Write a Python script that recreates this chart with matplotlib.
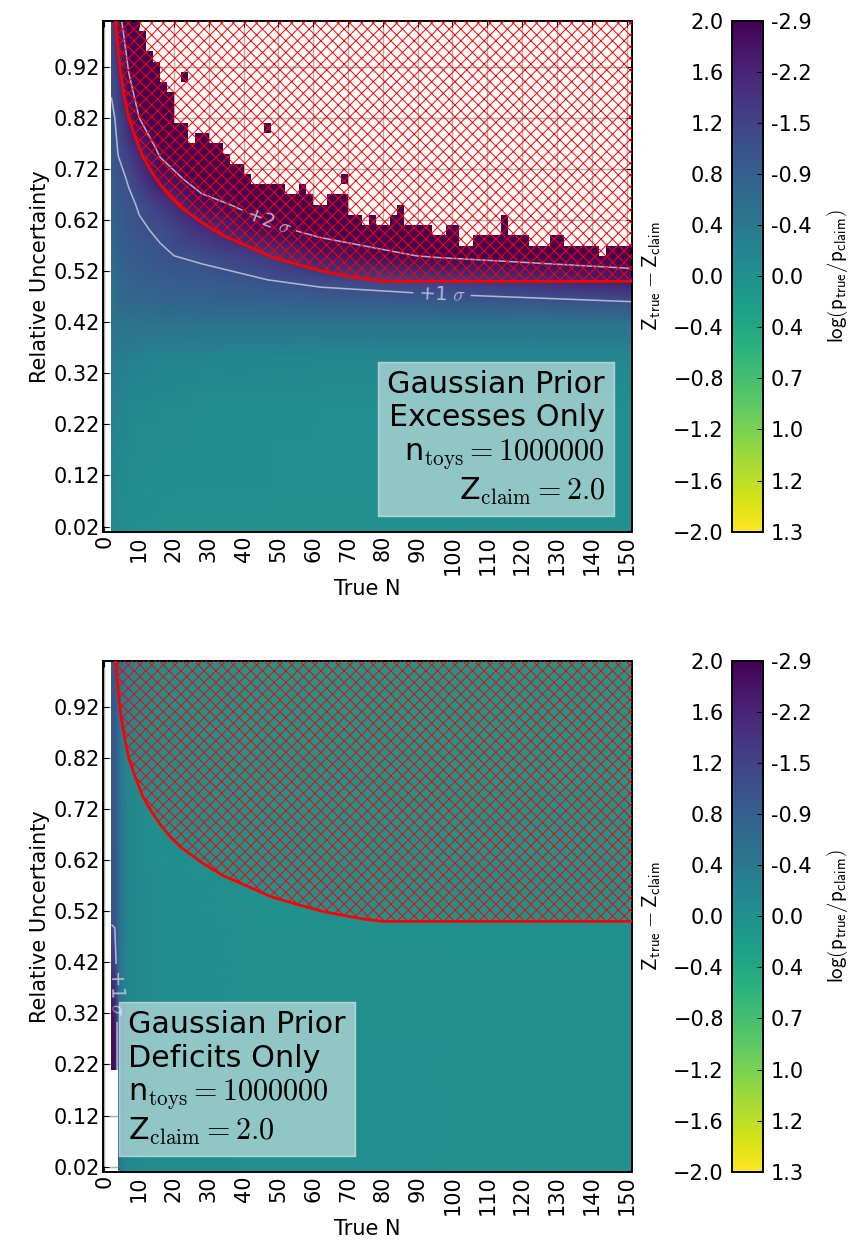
import numpy as np
import matplotlib
matplotlib.use('Agg')
import matplotlib.pyplot as plt
from matplotlib.path import Path
from matplotlib.colors import Normalize
from matplotlib.cm import ScalarMappable

plt.rcParams['mathtext.fontset'] = 'cm'
plt.rcParams['hatch.color'] = 'red'
plt.rcParams['hatch.linewidth'] = 1.0

# ---- upper panel (excesses): Z_true - Z_claim ----
up_n = [2, 3, 4, 7, 10, 16, 28, 47, 62, 95, 152]
up_unc = [0.01, 0.25, 0.35, 0.42, 0.46, 0.50, 0.55, 0.60, 0.65, 0.70, 0.76, 0.82, 0.90, 1.01]
# one row per N value, entries follow up_unc
up_z = [
    [0.10, 0.22, 0.30, 0.45, 0.50, 0.55, 0.62, 0.68, 0.74, 0.80, 0.88, 0.95, 1.05, 1.20],
    [0.10, 0.22, 0.35, 0.50, 0.56, 0.62, 0.70, 0.77, 0.83, 0.88, 0.94, 1.00, 1.15, 1.40],
    [0.05, 0.18, 0.32, 0.52, 0.60, 0.67, 0.75, 0.82, 0.88, 0.94, 1.02, 1.15, 1.35, 1.70],
    [0.02, 0.12, 0.30, 0.52, 0.65, 0.74, 0.84, 0.91, 0.96, 1.02, 1.35, 1.60, 1.95, 2.60],
    [0.02, 0.10, 0.25, 0.52, 0.67, 0.77, 0.87, 0.97, 1.02, 1.30, 1.60, 2.00, 2.50, 3.00],
    [0.00, 0.08, 0.20, 0.50, 0.70, 0.82, 0.97, 1.03, 1.30, 1.75, 2.10, 2.50, 3.00, 3.00],
    [0.00, 0.05, 0.18, 0.50, 0.72, 0.87, 1.06, 1.45, 1.85, 2.20, 2.50, 3.00, 3.00, 3.00],
    [0.00, 0.04, 0.16, 0.50, 0.75, 0.98, 1.35, 1.90, 2.20, 2.50, 3.00, 3.00, 3.00, 3.00],
    [0.00, 0.03, 0.15, 0.50, 0.80, 1.08, 1.75, 2.10, 2.40, 3.00, 3.00, 3.00, 3.00, 3.00],
    [0.00, 0.02, 0.15, 0.50, 0.85, 1.25, 2.05, 2.40, 3.00, 3.00, 3.00, 3.00, 3.00, 3.00],
    [0.00, 0.02, 0.15, 0.50, 1.00, 1.70, 2.30, 2.60, 3.00, 3.00, 3.00, 3.00, 3.00, 3.00],
]
# top of the filled cells for each 2-wide column starting at N=2 (white above)
up_top = [1.01, 1.01, 1.01, 1.01, 0.99, 0.95, 0.93, 0.89, 0.87, 0.81,
          0.81, 0.77, 0.79, 0.79, 0.77, 0.77, 0.75, 0.73, 0.73, 0.71,
          0.69, 0.69, 0.69, 0.69, 0.69, 0.67, 0.67, 0.69, 0.67, 0.65,
          0.65, 0.67, 0.67, 0.67, 0.63, 0.63, 0.61, 0.63, 0.61, 0.61,
          0.63, 0.65, 0.61, 0.61, 0.61, 0.61, 0.59, 0.59, 0.61, 0.61,
          0.57, 0.57, 0.59, 0.59, 0.59, 0.59, 0.63, 0.59, 0.59, 0.59,
          0.57, 0.57, 0.57, 0.59, 0.59, 0.57, 0.57, 0.57, 0.57, 0.57,
          0.55, 0.57, 0.57, 0.57, 0.57]
# isolated filled cells above the edge (lower-left corner)
dot_n = [22, 46, 68]
dot_u = [0.89, 0.79, 0.69]

# ---- lower panel (deficits) ----
lo_n = [2, 3, 4, 5, 7, 15, 40, 100, 152]
lo_unc = [0.01, 0.21, 0.30, 0.40, 0.50, 0.65, 0.80, 1.01]
lo_z = [
    [1.90, 1.90, 1.85, 1.45, 0.97, 0.95, 0.93, 0.90],
    [1.90, 1.90, 1.80, 1.35, 0.95, 0.93, 0.91, 0.88],
    [0.55, 0.55, 0.60, 0.62, 0.65, 0.65, 0.62, 0.60],
    [0.30, 0.30, 0.35, 0.38, 0.40, 0.40, 0.38, 0.36],
    [0.12, 0.12, 0.13, 0.15, 0.15, 0.15, 0.15, 0.15],
    [0.05, 0.05, 0.05, 0.05, 0.05, 0.03, 0.02, 0.00],
    [0.02, 0.02, 0.00, 0.00, 0.00, -0.03, -0.05, -0.08],
    [0.00, 0.00, 0.00, 0.00, -0.02, -0.05, -0.08, -0.10],
    [0.00, 0.00, 0.00, 0.00, -0.02, -0.05, -0.08, -0.10],
]
lo_bottom_first = 0.21   # first column (N 2-4) empty below this

# ---- claim boundary (red) ----
red_n = [3.2, 4.0, 4.7, 5.8, 7.0, 9.0, 11.0, 13.5, 16.0, 19.0, 22.0, 28.0,
         34.0, 40.0, 48.0, 56.0, 63.0, 70.0, 75.0, 80.0, 152.0]
red_u = [1.01, 0.95, 0.905, 0.86, 0.82, 0.78, 0.745, 0.715, 0.69, 0.665, 0.645,
         0.615, 0.59, 0.572, 0.548, 0.532, 0.519, 0.51, 0.504, 0.50, 0.50]

x_ticks = list(range(0, 151, 10))
y_ticks = [0.02, 0.12, 0.22, 0.32, 0.42, 0.52, 0.62, 0.72, 0.82, 0.92]
cbar_ticks = [2.0, 1.6, 1.2, 0.8, 0.4, 0.0, -0.4, -0.8, -1.2, -1.6, -2.0]
cbar_right = ['-2.9', '-2.2', '-1.5', '-0.9', '-0.4', '0.0', '0.4', '0.7', '1.0', '1.2', '1.3']

FS = 21.5
norm = Normalize(-2, 2)
cmap = plt.get_cmap('viridis_r')


def cell_outline(bottoms, tops, extra_n=(), extra_u=()):
    # outline of the filled 2-wide columns starting at N=2
    edges = np.arange(2, 2 + 2 * len(tops) + 1, 2)
    verts = []
    for i, t in enumerate(tops):
        verts += [(edges[i], t), (edges[i + 1], t)]
    for i in range(len(bottoms) - 1, -1, -1):
        verts += [(edges[i + 1], bottoms[i]), (edges[i], bottoms[i])]
    codes = [Path.MOVETO] + [Path.LINETO] * (len(verts) - 1)
    verts.append(verts[0])
    codes.append(Path.CLOSEPOLY)
    for n, u in zip(extra_n, extra_u):
        verts += [(n, u), (n + 2, u), (n + 2, u + 0.02), (n, u + 0.02), (n, u)]
        codes += [Path.MOVETO, Path.LINETO, Path.LINETO, Path.LINETO, Path.CLOSEPOLY]
    return Path(verts, codes)


def panel(ax, n, unc, z, clip, manual, box_text, box_x, box_ha):
    z = np.array(z).T
    mesh = ax.pcolormesh(n, unc, z, cmap=cmap, norm=norm, shading='gouraud', zorder=1)
    mesh.set_clip_path(clip, ax.transData)
    cs = ax.contour(n, unc, z, levels=[1.0, 2.0], colors='#c9c8e0', linewidths=1.6,
                    alpha=0.85, zorder=2)
    cs.set_clip_path(clip, ax.transData)
    ax.clabel(cs, fmt={1.0: r'+1 $\sigma$', 2.0: r'+2 $\sigma$'}, manual=manual,
              inline=True, fontsize=20, colors='#c9c8e0')

    ax.fill_between(red_n, red_u, 1.01, facecolor='none', edgecolor='red',
                    hatch='xx', linewidth=0, zorder=3)
    ax.plot(red_n, red_u, color='red', lw=2.8, zorder=4)

    ax.set_xlim(-0.3, 151.5)
    ax.set_ylim(0.01, 1.01)
    ax.set_xticks(x_ticks)
    ax.set_yticks(y_ticks)
    ax.set_yticklabels([f'{v:.2f}' for v in y_ticks])
    ax.tick_params(direction='in', top=True, right=True, length=6, width=1,
                   labelsize=FS)
    ax.tick_params(axis='x', labelrotation=90)
    ax.set_axisbelow(True)
    ax.grid(True, color='#b0b0b0', lw=1.5)
    for s in ax.spines.values():
        s.set_linewidth(2)
    ax.set_xlabel('True N', fontsize=FS)
    ax.set_ylabel('Relative Uncertainty', fontsize=FS)

    ax.text(box_x, 0.048, box_text, transform=ax.transAxes, ha=box_ha, va='bottom',
            multialignment=box_ha, fontsize=31, zorder=6,
            bbox=dict(boxstyle='square,pad=0.3', facecolor='white', alpha=0.5,
                      edgecolor='white', linewidth=1.5))


def colorbar(fig, rect):
    cax = fig.add_axes(rect)
    cb = fig.colorbar(ScalarMappable(norm=norm, cmap=cmap), cax=cax)
    cb.set_ticks(cbar_ticks)
    cb.outline.set_linewidth(2)
    cax.yaxis.set_ticks_position('left')
    cax.yaxis.set_label_position('left')
    cax.tick_params(length=0, labelsize=FS, pad=8)
    cax.set_ylabel(r'$\mathsf{Z_{true} - Z_{claim}}$', fontsize=FS, labelpad=10)
    rax = cax.twinx()
    rax.set_ylim(-2, 2)
    rax.set_yticks(cbar_ticks)
    rax.set_yticklabels(cbar_right)
    rax.tick_params(direction='in', length=6, width=1, labelsize=FS, pad=8)
    for s in rax.spines.values():
        s.set_visible(False)
    rax.set_ylabel(r'$\mathsf{log\left(p_{true}/p_{claim}\right)}$', fontsize=FS, labelpad=14)


fig = plt.figure(figsize=(849 / 70, 1256 / 70), dpi=70)

ax1 = fig.add_axes([0.1217, 0.5767, 0.6224, 0.4068])
ax2 = fig.add_axes([0.1217, 0.0671, 0.6224, 0.4068])

clip_up = cell_outline([0.01] * len(up_top), up_top, dot_n, dot_u)
panel(ax1, up_n, up_unc, up_z, clip_up, [(97, 0.475), (47, 0.612)],
      'Gaussian Prior\nExcesses Only\nn$_{\\rm toys} = 1000000$\nZ$_{\\rm claim} = 2.0$',
      0.9495, 'right')

lo_bottoms = [lo_bottom_first] + [0.01] * 74
clip_lo = cell_outline(lo_bottoms, [1.01] * 75)
panel(ax2, lo_n, lo_unc, lo_z, clip_lo, [(3.6, 0.36)],
      'Gaussian Prior\nDeficits Only\nn$_{\\rm toys} = 1000000$\nZ$_{\\rm claim} = 2.0$',
      0.047, 'left')

colorbar(fig, [0.8618, 0.5767, 0.0372, 0.4068])
colorbar(fig, [0.8618, 0.0671, 0.0372, 0.4068])

fig.savefig('out.png', dpi=70)
